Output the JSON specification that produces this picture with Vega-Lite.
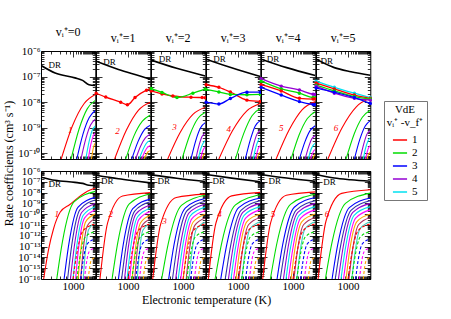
{
"$schema":"https://vega.github.io/schema/vega-lite/v6.json",
"padding":{"left":2,"top":25,"right":5,"bottom":5},
"datasets":{
"t":[
{"p":0,"c":0,"T":100,"k":2.7e-7},{"p":0,"c":0,"T":275,"k":1.38e-7},{"p":0,"c":0,"T":1148,"k":8.9e-8},{"p":0,"c":0,"T":1995,"k":7.1e-8},{"p":0,"c":0,"T":3162,"k":4.8e-8},{"p":0,"c":0,"T":5000,"k":4.5e-8},
{"p":1,"c":0,"T":100,"k":4e-7},{"p":1,"c":0,"T":501,"k":1.9e-7},{"p":1,"c":0,"T":1995,"k":1.12e-7},{"p":1,"c":0,"T":5000,"k":7.9e-8},
{"p":2,"c":0,"T":100,"k":4.4e-7},{"p":2,"c":0,"T":631,"k":2.1e-7},{"p":2,"c":0,"T":5000,"k":1.05e-7},
{"p":3,"c":0,"T":100,"k":4.8e-7},{"p":3,"c":0,"T":631,"k":2.2e-7},{"p":3,"c":0,"T":5000,"k":1e-7},
{"p":4,"c":0,"T":100,"k":4.8e-7},{"p":4,"c":0,"T":631,"k":2.24e-7},{"p":4,"c":0,"T":5000,"k":1.1e-7},
{"p":5,"c":0,"T":100,"k":4.8e-7},{"p":5,"c":0,"T":372,"k":2.24e-7},{"p":5,"c":0,"T":1230,"k":1.55e-7},{"p":5,"c":0,"T":5000,"k":1.12e-7},
{"p":0,"c":1,"T":427,"k":6e-11},{"p":0,"c":1,"T":955,"k":1.17e-9},{"p":0,"c":1,"T":2239,"k":8.9e-9},{"p":0,"c":1,"T":5000,"k":2e-8},
{"p":0,"c":2,"T":871,"k":6e-11},{"p":0,"c":2,"T":1549,"k":8.9e-10},{"p":0,"c":2,"T":2818,"k":5.6e-9},{"p":0,"c":2,"T":5000,"k":1.17e-8},
{"p":0,"c":3,"T":1318,"k":6e-11},{"p":0,"c":3,"T":2042,"k":5.5e-10},{"p":0,"c":3,"T":3236,"k":2.5e-9},{"p":0,"c":3,"T":5000,"k":4.7e-9},
{"p":0,"c":5,"T":1778,"k":6e-11},{"p":0,"c":5,"T":2512,"k":3.7e-10},{"p":0,"c":5,"T":3548,"k":1.29e-9},{"p":0,"c":5,"T":5000,"k":2.14e-9},
{"p":0,"c":6,"T":2512,"k":6e-11},{"p":0,"c":6,"T":3162,"k":2.75e-10},{"p":0,"c":6,"T":3981,"k":7.8e-10},{"p":0,"c":6,"T":5000,"k":1.17e-9},
{"p":0,"c":7,"T":3020,"k":6e-11},{"p":0,"c":7,"T":3548,"k":2e-10},{"p":0,"c":7,"T":4266,"k":4.6e-10},{"p":0,"c":7,"T":5000,"k":6.3e-10},
{"p":0,"c":8,"T":3802,"k":6e-11},{"p":0,"c":8,"T":4169,"k":1.26e-10},{"p":0,"c":8,"T":4571,"k":2.04e-10},{"p":0,"c":8,"T":5000,"k":2.5e-10},
{"p":1,"c":1,"T":380,"k":6e-11},{"p":1,"c":1,"T":891,"k":8.1e-10},{"p":1,"c":1,"T":2138,"k":4.9e-9},{"p":1,"c":1,"T":5000,"k":1e-8},
{"p":1,"c":2,"T":851,"k":6e-11},{"p":1,"c":2,"T":1514,"k":4.6e-10},{"p":1,"c":2,"T":2818,"k":1.8e-9},{"p":1,"c":2,"T":5000,"k":3.16e-9},
{"p":1,"c":3,"T":1318,"k":6e-11},{"p":1,"c":3,"T":2042,"k":2.8e-10},{"p":1,"c":3,"T":3236,"k":8.3e-10},{"p":1,"c":3,"T":5000,"k":1.26e-9},
{"p":1,"c":5,"T":1738,"k":6e-11},{"p":1,"c":5,"T":2455,"k":1.86e-10},{"p":1,"c":5,"T":3548,"k":4.1e-10},{"p":1,"c":5,"T":5000,"k":5.6e-10},
{"p":1,"c":6,"T":2239,"k":6e-11},{"p":1,"c":6,"T":2951,"k":1.41e-10},{"p":1,"c":6,"T":3802,"k":2.5e-10},{"p":1,"c":6,"T":5000,"k":3.16e-10},
{"p":1,"c":7,"T":2692,"k":6e-11},{"p":1,"c":7,"T":3311,"k":1.12e-10},{"p":1,"c":7,"T":4074,"k":1.7e-10},{"p":1,"c":7,"T":5000,"k":2e-10},
{"p":1,"c":8,"T":3162,"k":6e-11},{"p":1,"c":8,"T":3715,"k":8.7e-11},{"p":1,"c":8,"T":4266,"k":1.15e-10},{"p":1,"c":8,"T":5000,"k":1.26e-10},
{"p":2,"c":1,"T":331,"k":6e-11},{"p":2,"c":1,"T":813,"k":6.5e-10},{"p":2,"c":1,"T":2042,"k":3.3e-9},{"p":2,"c":1,"T":5000,"k":6.3e-9},
{"p":2,"c":2,"T":933,"k":6e-11},{"p":2,"c":2,"T":1622,"k":5.1e-10},{"p":2,"c":2,"T":2884,"k":2.24e-9},{"p":2,"c":2,"T":5000,"k":4e-9},
{"p":2,"c":3,"T":1778,"k":6e-11},{"p":2,"c":3,"T":2512,"k":3.16e-10},{"p":2,"c":3,"T":3548,"k":1e-9},{"p":2,"c":3,"T":5000,"k":1.58e-9},
{"p":2,"c":5,"T":2512,"k":6e-11},{"p":2,"c":5,"T":3162,"k":2e-10},{"p":2,"c":5,"T":3981,"k":4.6e-10},{"p":2,"c":5,"T":5000,"k":6.3e-10},
{"p":2,"c":6,"T":3020,"k":6e-11},{"p":2,"c":6,"T":3548,"k":1.41e-10},{"p":2,"c":6,"T":4266,"k":2.5e-10},{"p":2,"c":6,"T":5000,"k":3.16e-10},
{"p":2,"c":7,"T":3548,"k":6e-11},{"p":2,"c":7,"T":3981,"k":1.05e-10},{"p":2,"c":7,"T":4467,"k":1.5e-10},{"p":2,"c":7,"T":5000,"k":1.78e-10},
{"p":2,"c":8,"T":3981,"k":6e-11},{"p":2,"c":8,"T":4266,"k":7.8e-11},{"p":2,"c":8,"T":4677,"k":9.3e-11},{"p":2,"c":8,"T":5000,"k":1e-10},
{"p":3,"c":1,"T":251,"k":6e-11},{"p":3,"c":1,"T":676,"k":7.8e-10},{"p":3,"c":1,"T":1862,"k":4.5e-9},{"p":3,"c":1,"T":5000,"k":8.9e-9},
{"p":3,"c":2,"T":832,"k":6e-11},{"p":3,"c":2,"T":1514,"k":6e-10},{"p":3,"c":2,"T":2754,"k":2.95e-9},{"p":3,"c":2,"T":5000,"k":5.6e-9},
{"p":3,"c":3,"T":1698,"k":6e-11},{"p":3,"c":3,"T":2455,"k":3.5e-10},{"p":3,"c":3,"T":3467,"k":1.17e-9},{"p":3,"c":3,"T":5000,"k":1.9e-9},
{"p":3,"c":5,"T":2399,"k":6e-11},{"p":3,"c":5,"T":3090,"k":2.24e-10},{"p":3,"c":5,"T":3890,"k":5.5e-10},{"p":3,"c":5,"T":5000,"k":7.9e-10},
{"p":3,"c":6,"T":3020,"k":6e-11},{"p":3,"c":6,"T":3548,"k":1.58e-10},{"p":3,"c":6,"T":4266,"k":3.1e-10},{"p":3,"c":6,"T":5000,"k":4e-10},
{"p":3,"c":7,"T":3548,"k":6e-11},{"p":3,"c":7,"T":3981,"k":1.12e-10},{"p":3,"c":7,"T":4467,"k":1.7e-10},{"p":3,"c":7,"T":5000,"k":2e-10},
{"p":3,"c":8,"T":3981,"k":6e-11},{"p":3,"c":8,"T":4266,"k":8.3e-11},{"p":3,"c":8,"T":4677,"k":1.02e-10},{"p":3,"c":8,"T":5000,"k":1.12e-10},
{"p":4,"c":1,"T":295,"k":6e-11},{"p":4,"c":1,"T":759,"k":8.3e-10},{"p":4,"c":1,"T":1950,"k":5.1e-9},{"p":4,"c":1,"T":5000,"k":1.05e-8},
{"p":4,"c":2,"T":871,"k":6e-11},{"p":4,"c":2,"T":1549,"k":5.2e-10},{"p":4,"c":2,"T":2818,"k":2.3e-9},{"p":4,"c":2,"T":5000,"k":4.2e-9},
{"p":4,"c":3,"T":1585,"k":6e-11},{"p":4,"c":3,"T":2344,"k":2.75e-10},{"p":4,"c":3,"T":3467,"k":7.9e-10},{"p":4,"c":3,"T":5000,"k":1.2e-9},
{"p":4,"c":5,"T":2399,"k":6e-11},{"p":4,"c":5,"T":3090,"k":1.78e-10},{"p":4,"c":5,"T":3890,"k":3.7e-10},{"p":4,"c":5,"T":5000,"k":5e-10},
{"p":4,"c":6,"T":3020,"k":6e-11},{"p":4,"c":6,"T":3548,"k":1.26e-10},{"p":4,"c":6,"T":4266,"k":2.04e-10},{"p":4,"c":6,"T":5000,"k":2.5e-10},
{"p":4,"c":7,"T":3548,"k":6e-11},{"p":4,"c":7,"T":3981,"k":9.3e-11},{"p":4,"c":7,"T":4467,"k":1.26e-10},{"p":4,"c":7,"T":5000,"k":1.41e-10},
{"p":4,"c":8,"T":4169,"k":6e-11},{"p":4,"c":8,"T":4467,"k":7.4e-11},{"p":4,"c":8,"T":4677,"k":8.5e-11},{"p":4,"c":8,"T":5000,"k":8.9e-11},
{"p":5,"c":1,"T":234,"k":6e-11},{"p":5,"c":1,"T":646,"k":9.8e-10},{"p":5,"c":1,"T":1820,"k":6.6e-9},{"p":5,"c":1,"T":5000,"k":1.41e-8},
{"p":5,"c":2,"T":871,"k":6e-11},{"p":5,"c":2,"T":1549,"k":5.6e-10},{"p":5,"c":2,"T":2818,"k":2.57e-9},{"p":5,"c":2,"T":5000,"k":4.8e-9},
{"p":5,"c":3,"T":1585,"k":6e-11},{"p":5,"c":3,"T":2344,"k":3.5e-10},{"p":5,"c":3,"T":3467,"k":1.17e-9},{"p":5,"c":3,"T":5000,"k":1.9e-9},
{"p":5,"c":5,"T":2399,"k":6e-11},{"p":5,"c":5,"T":3090,"k":2.24e-10},{"p":5,"c":5,"T":3890,"k":5.5e-10},{"p":5,"c":5,"T":5000,"k":7.9e-10},
{"p":5,"c":6,"T":3020,"k":6e-11},{"p":5,"c":6,"T":3548,"k":1.58e-10},{"p":5,"c":6,"T":4266,"k":3.1e-10},{"p":5,"c":6,"T":5000,"k":4e-10},
{"p":5,"c":7,"T":3548,"k":6e-11},{"p":5,"c":7,"T":3981,"k":1.12e-10},{"p":5,"c":7,"T":4467,"k":1.7e-10},{"p":5,"c":7,"T":5000,"k":2e-10},
{"p":5,"c":8,"T":3981,"k":6e-11},{"p":5,"c":8,"T":4266,"k":8.3e-11},{"p":5,"c":8,"T":4677,"k":1.02e-10},{"p":5,"c":8,"T":5000,"k":1.12e-10},
{"p":1,"c":21,"T":100,"k":2.24e-8},{"p":1,"c":21,"T":200,"k":1.58e-8},{"p":1,"c":21,"T":589,"k":1e-8},{"p":1,"c":21,"T":955,"k":7.9e-9},{"p":1,"c":21,"T":1660,"k":1.51e-8},{"p":1,"c":21,"T":3802,"k":2.95e-8},{"p":1,"c":21,"T":5000,"k":3.4e-8},
{"p":2,"c":21,"T":100,"k":2.75e-8},{"p":2,"c":21,"T":219,"k":2.1e-8},{"p":2,"c":21,"T":479,"k":1.74e-8},{"p":2,"c":21,"T":1778,"k":1.55e-8},{"p":2,"c":21,"T":3981,"k":1.51e-8},{"p":2,"c":21,"T":5000,"k":1.5e-8},
{"p":2,"c":22,"T":100,"k":3.4e-8},{"p":2,"c":22,"T":219,"k":2.4e-8},{"p":2,"c":22,"T":646,"k":1.51e-8},{"p":2,"c":22,"T":2042,"k":2.24e-8},{"p":2,"c":22,"T":5000,"k":3.3e-8},
{"p":3,"c":21,"T":100,"k":4.8e-8},{"p":3,"c":21,"T":251,"k":3.8e-8},{"p":3,"c":21,"T":575,"k":2.5e-8},{"p":3,"c":21,"T":1905,"k":1.2e-8},{"p":3,"c":21,"T":5000,"k":1.07e-8},
{"p":3,"c":22,"T":100,"k":3.16e-8},{"p":3,"c":22,"T":251,"k":2.5e-8},{"p":3,"c":22,"T":575,"k":2e-8},{"p":3,"c":22,"T":1905,"k":1.95e-8},{"p":3,"c":22,"T":5000,"k":2e-8},
{"p":3,"c":23,"T":100,"k":1e-8},{"p":3,"c":23,"T":251,"k":8.5e-9},{"p":3,"c":23,"T":575,"k":1.38e-8},{"p":3,"c":23,"T":1905,"k":2.45e-8},{"p":3,"c":23,"T":5000,"k":2.45e-8},
{"p":4,"c":24,"T":100,"k":8.3e-8},{"p":4,"c":24,"T":427,"k":4.2e-8},{"p":4,"c":24,"T":1585,"k":3e-8},{"p":4,"c":24,"T":4266,"k":2.04e-8},{"p":4,"c":24,"T":5000,"k":2e-8},
{"p":4,"c":22,"T":100,"k":6.6e-8},{"p":4,"c":22,"T":427,"k":3.3e-8},{"p":4,"c":22,"T":1585,"k":2.24e-8},{"p":4,"c":22,"T":4266,"k":1.51e-8},{"p":4,"c":22,"T":5000,"k":1.48e-8},
{"p":4,"c":21,"T":100,"k":4.8e-8},{"p":4,"c":21,"T":427,"k":2.75e-8},{"p":4,"c":21,"T":1585,"k":1.41e-8},{"p":4,"c":21,"T":4266,"k":1.32e-8},{"p":4,"c":21,"T":5000,"k":1.32e-8},
{"p":4,"c":23,"T":100,"k":3.8e-8},{"p":4,"c":23,"T":427,"k":1.9e-8},{"p":4,"c":23,"T":1585,"k":1.05e-8},{"p":4,"c":23,"T":4266,"k":8.1e-9},{"p":4,"c":23,"T":5000,"k":7.9e-9},
{"p":5,"c":25,"T":100,"k":6.6e-8},{"p":5,"c":25,"T":372,"k":3.8e-8},{"p":5,"c":25,"T":1585,"k":2.24e-8},{"p":5,"c":25,"T":5000,"k":1.51e-8},
{"p":5,"c":21,"T":100,"k":5.6e-8},{"p":5,"c":21,"T":372,"k":3.3e-8},{"p":5,"c":21,"T":1585,"k":1.9e-8},{"p":5,"c":21,"T":5000,"k":1.41e-8},
{"p":5,"c":22,"T":100,"k":4.6e-8},{"p":5,"c":22,"T":372,"k":2.75e-8},{"p":5,"c":22,"T":1585,"k":1.66e-8},{"p":5,"c":22,"T":5000,"k":1.32e-8},
{"p":5,"c":24,"T":100,"k":4.2e-8},{"p":5,"c":24,"T":372,"k":2.24e-8},{"p":5,"c":24,"T":1585,"k":1.41e-8},{"p":5,"c":24,"T":5000,"k":1.2e-8},
{"p":5,"c":23,"T":100,"k":3.55e-8},{"p":5,"c":23,"T":372,"k":2.45e-8},{"p":5,"c":23,"T":1585,"k":1.51e-8},{"p":5,"c":23,"T":5000,"k":8.9e-9},
{"p":0,"c":-1,"T":170,"k":2.95e-7,"s":"DR"},{"p":1,"c":-1,"T":166,"k":3.8e-7,"s":"DR"},{"p":2,"c":-1,"T":174,"k":4.8e-7,"s":"DR"},{"p":3,"c":-1,"T":166,"k":4.8e-7,"s":"DR"},{"p":4,"c":-1,"T":151,"k":4.8e-7,"s":"DR"},{"p":5,"c":-1,"T":138,"k":3.9e-7,"s":"DR"},
{"p":0,"c":-2,"T":813,"k":7.9e-10,"s":"1"},{"p":1,"c":-2,"T":468,"k":7.4e-10,"s":"2"},{"p":2,"c":-2,"T":537,"k":1.05e-9,"s":"3"},{"p":3,"c":-2,"T":513,"k":8.9e-10,"s":"4"},{"p":4,"c":-2,"T":427,"k":9.5e-10,"s":"5"},{"p":5,"c":-2,"T":417,"k":9.5e-10,"s":"6"}
],
"b":[
{"p":0,"c":0,"T":100,"k":2.7e-7},{"p":0,"c":0,"T":275,"k":1.38e-7},{"p":0,"c":0,"T":1148,"k":8.9e-8},{"p":0,"c":0,"T":1995,"k":7.1e-8},{"p":0,"c":0,"T":3162,"k":4.8e-8},{"p":0,"c":0,"T":5000,"k":4.5e-8},
{"p":1,"c":0,"T":100,"k":4e-7},{"p":1,"c":0,"T":501,"k":1.9e-7},{"p":1,"c":0,"T":1995,"k":1.12e-7},{"p":1,"c":0,"T":5000,"k":7.9e-8},
{"p":2,"c":0,"T":100,"k":4.4e-7},{"p":2,"c":0,"T":631,"k":2.1e-7},{"p":2,"c":0,"T":5000,"k":1.05e-7},
{"p":3,"c":0,"T":100,"k":4.8e-7},{"p":3,"c":0,"T":631,"k":2.2e-7},{"p":3,"c":0,"T":5000,"k":1e-7},
{"p":4,"c":0,"T":100,"k":4.8e-7},{"p":4,"c":0,"T":631,"k":2.24e-7},{"p":4,"c":0,"T":5000,"k":1.1e-7},
{"p":5,"c":0,"T":100,"k":4.8e-7},{"p":5,"c":0,"T":372,"k":2.24e-7},{"p":5,"c":0,"T":1230,"k":1.55e-7},{"p":5,"c":0,"T":5000,"k":1.12e-7},
{"p":0,"c":1,"T":120,"k":1e-16},{"p":0,"c":1,"T":170,"k":5e-14},{"p":0,"c":1,"T":245,"k":4.5e-12},{"p":0,"c":1,"T":398,"k":1.58e-10},{"p":0,"c":1,"T":794,"k":7.9e-10},{"p":0,"c":1,"T":1479,"k":3.6e-9},{"p":0,"c":1,"T":2818,"k":1.35e-8},{"p":0,"c":1,"T":5000,"k":2.7e-8},
{"p":0,"c":2,"T":309,"k":1e-16},{"p":0,"c":2,"T":468,"k":3.1e-13},{"p":0,"c":2,"T":1072,"k":1.38e-9},{"p":0,"c":2,"T":5000,"k":1.29e-8},
{"p":0,"c":3,"T":525,"k":1e-16},{"p":0,"c":3,"T":741,"k":1.78e-13},{"p":0,"c":3,"T":1445,"k":4.5e-10},{"p":0,"c":3,"T":5000,"k":3.6e-9},
{"p":0,"c":4,"T":676,"k":1e-16},{"p":0,"c":4,"T":912,"k":1.38e-13},{"p":0,"c":4,"T":1660,"k":2.7e-10},{"p":0,"c":4,"T":5000,"k":2.04e-9},
{"p":0,"c":5,"T":832,"k":1e-16},{"p":0,"c":5,"T":1096,"k":1.02e-13},{"p":0,"c":5,"T":1862,"k":1.45e-10},{"p":0,"c":5,"T":5000,"k":1e-9},
{"p":0,"c":6,"T":1000,"k":1e-16},{"p":0,"c":6,"T":1288,"k":7.6e-14},{"p":0,"c":6,"T":2089,"k":7.9e-11},{"p":0,"c":6,"T":5000,"k":5e-10},
{"p":0,"c":7,"T":1202,"k":1e-16},{"p":0,"c":7,"T":1479,"k":5.6e-14},{"p":0,"c":7,"T":2291,"k":4.3e-11},{"p":0,"c":7,"T":5000,"k":2.5e-10},
{"p":0,"c":8,"T":1445,"k":1e-16},{"p":0,"c":8,"T":1738,"k":3.9e-14},{"p":0,"c":8,"T":2512,"k":2.04e-11},{"p":0,"c":8,"T":5000,"k":1.07e-10},
{"p":0,"c":9,"T":1738,"k":1e-16},{"p":0,"c":9,"T":2042,"k":2.57e-14},{"p":0,"c":9,"T":2818,"k":8.5e-12},{"p":0,"c":9,"T":5000,"k":4e-11},
{"p":0,"c":10,"T":2089,"k":1e-16},{"p":0,"c":10,"T":2399,"k":1.74e-14},{"p":0,"c":10,"T":3090,"k":3.8e-12},{"p":0,"c":10,"T":5000,"k":1.58e-11},
{"p":1,"c":1,"T":132,"k":1e-16},{"p":1,"c":1,"T":229,"k":1.58e-11},{"p":1,"c":1,"T":676,"k":4.8e-9},{"p":1,"c":1,"T":5000,"k":1e-8},
{"p":1,"c":2,"T":316,"k":1e-16},{"p":1,"c":2,"T":479,"k":2.5e-13},{"p":1,"c":2,"T":1096,"k":8.9e-10},{"p":1,"c":2,"T":5000,"k":7.9e-9},
{"p":1,"c":3,"T":501,"k":1e-16},{"p":1,"c":3,"T":708,"k":1.51e-13},{"p":1,"c":3,"T":1413,"k":3.2e-10},{"p":1,"c":3,"T":5000,"k":2.5e-9},
{"p":1,"c":4,"T":631,"k":1e-16},{"p":1,"c":4,"T":871,"k":1.17e-13},{"p":1,"c":4,"T":1622,"k":1.95e-10},{"p":1,"c":4,"T":5000,"k":1.41e-9},
{"p":1,"c":5,"T":776,"k":1e-16},{"p":1,"c":5,"T":1023,"k":8.9e-14},{"p":1,"c":5,"T":1778,"k":1.07e-10},{"p":1,"c":5,"T":5000,"k":7.1e-10},
{"p":1,"c":6,"T":933,"k":1e-16},{"p":1,"c":6,"T":1202,"k":6.6e-14},{"p":1,"c":6,"T":1995,"k":5.8e-11},{"p":1,"c":6,"T":5000,"k":3.55e-10},
{"p":1,"c":7,"T":1122,"k":1e-16},{"p":1,"c":7,"T":1413,"k":4.9e-14},{"p":1,"c":7,"T":2188,"k":3.16e-11},{"p":1,"c":7,"T":5000,"k":1.78e-10},
{"p":1,"c":8,"T":1349,"k":1e-16},{"p":1,"c":8,"T":1660,"k":3.5e-14},{"p":1,"c":8,"T":2455,"k":1.55e-11},{"p":1,"c":8,"T":5000,"k":7.9e-11},
{"p":1,"c":9,"T":1622,"k":1e-16},{"p":1,"c":9,"T":1905,"k":2.45e-14},{"p":1,"c":9,"T":2692,"k":7.6e-12},{"p":1,"c":9,"T":5000,"k":3.55e-11},
{"p":1,"c":10,"T":1950,"k":1e-16},{"p":1,"c":10,"T":2239,"k":1.62e-14},{"p":1,"c":10,"T":2951,"k":3.4e-12},{"p":1,"c":10,"T":5000,"k":1.41e-11},
{"p":2,"c":1,"T":112,"k":1e-16},{"p":2,"c":1,"T":200,"k":1.29e-11},{"p":2,"c":1,"T":617,"k":3.55e-9},{"p":2,"c":1,"T":5000,"k":7.2e-9},
{"p":2,"c":2,"T":214,"k":1e-16},{"p":2,"c":2,"T":347,"k":2.14e-13},{"p":2,"c":2,"T":891,"k":6.6e-10},{"p":2,"c":2,"T":5000,"k":5.6e-9},
{"p":2,"c":3,"T":355,"k":1e-16},{"p":2,"c":3,"T":525,"k":1.58e-13},{"p":2,"c":3,"T":1175,"k":3.6e-10},{"p":2,"c":3,"T":5000,"k":2.8e-9},
{"p":2,"c":4,"T":468,"k":1e-16},{"p":2,"c":4,"T":661,"k":1.26e-13},{"p":2,"c":4,"T":1349,"k":2.2e-10},{"p":2,"c":4,"T":5000,"k":1.58e-9},
{"p":2,"c":5,"T":589,"k":1e-16},{"p":2,"c":5,"T":813,"k":9.8e-14},{"p":2,"c":5,"T":1549,"k":1.32e-10},{"p":2,"c":5,"T":5000,"k":8.9e-10},
{"p":2,"c":6,"T":708,"k":1e-16},{"p":2,"c":6,"T":955,"k":7.2e-14},{"p":2,"c":6,"T":1698,"k":7.1e-11},{"p":2,"c":6,"T":5000,"k":4.5e-10},
{"p":2,"c":7,"T":851,"k":1e-16},{"p":2,"c":7,"T":1122,"k":5.4e-14},{"p":2,"c":7,"T":1905,"k":3.9e-11},{"p":2,"c":7,"T":5000,"k":2.24e-10},
{"p":2,"c":8,"T":1023,"k":1e-16},{"p":2,"c":8,"T":1288,"k":3.8e-14},{"p":2,"c":8,"T":2089,"k":1.9e-11},{"p":2,"c":8,"T":5000,"k":1e-10},
{"p":2,"c":9,"T":1259,"k":1e-16},{"p":2,"c":9,"T":1549,"k":2.7e-14},{"p":2,"c":9,"T":2344,"k":9.3e-12},{"p":2,"c":9,"T":5000,"k":4.5e-11},
{"p":2,"c":10,"T":1549,"k":1e-16},{"p":2,"c":10,"T":1862,"k":1.82e-14},{"p":2,"c":10,"T":2630,"k":4.2e-12},{"p":2,"c":10,"T":5000,"k":1.78e-11},
{"p":3,"c":1,"T":117,"k":1e-16},{"p":3,"c":1,"T":204,"k":1.62e-11},{"p":3,"c":1,"T":631,"k":5e-9},{"p":3,"c":1,"T":5000,"k":1.05e-8},
{"p":3,"c":2,"T":191,"k":1e-16},{"p":3,"c":2,"T":309,"k":2.24e-13},{"p":3,"c":2,"T":832,"k":7.2e-10},{"p":3,"c":2,"T":5000,"k":6.3e-9},
{"p":3,"c":3,"T":288,"k":1e-16},{"p":3,"c":3,"T":447,"k":1.66e-13},{"p":3,"c":3,"T":1047,"k":4e-10},{"p":3,"c":3,"T":5000,"k":3.16e-9},
{"p":3,"c":4,"T":398,"k":1e-16},{"p":3,"c":4,"T":589,"k":1.32e-13},{"p":3,"c":4,"T":1259,"k":2.4e-10},{"p":3,"c":4,"T":5000,"k":1.78e-9},
{"p":3,"c":5,"T":501,"k":1e-16},{"p":3,"c":5,"T":708,"k":1.02e-13},{"p":3,"c":5,"T":1413,"k":1.45e-10},{"p":3,"c":5,"T":5000,"k":1e-9},
{"p":3,"c":6,"T":603,"k":1e-16},{"p":3,"c":6,"T":832,"k":7.6e-14},{"p":3,"c":6,"T":1549,"k":7.9e-11},{"p":3,"c":6,"T":5000,"k":5e-10},
{"p":3,"c":7,"T":724,"k":1e-16},{"p":3,"c":7,"T":977,"k":5.6e-14},{"p":3,"c":7,"T":1738,"k":4.3e-11},{"p":3,"c":7,"T":5000,"k":2.5e-10},
{"p":3,"c":8,"T":871,"k":1e-16},{"p":3,"c":8,"T":1122,"k":4e-14},{"p":3,"c":8,"T":1905,"k":2.1e-11},{"p":3,"c":8,"T":5000,"k":1.05e-10},
{"p":3,"c":9,"T":1072,"k":1e-16},{"p":3,"c":9,"T":1349,"k":2.8e-14},{"p":3,"c":9,"T":2138,"k":1.05e-11},{"p":3,"c":9,"T":5000,"k":5e-11},
{"p":3,"c":10,"T":1318,"k":1e-16},{"p":3,"c":10,"T":1622,"k":1.9e-14},{"p":3,"c":10,"T":2399,"k":4.6e-12},{"p":3,"c":10,"T":5000,"k":2e-11},
{"p":4,"c":1,"T":112,"k":1e-16},{"p":4,"c":1,"T":200,"k":1.78e-11},{"p":4,"c":1,"T":617,"k":5.6e-9},{"p":4,"c":1,"T":5000,"k":1.17e-8},
{"p":4,"c":2,"T":195,"k":1e-16},{"p":4,"c":2,"T":316,"k":2.4e-13},{"p":4,"c":2,"T":832,"k":8.1e-10},{"p":4,"c":2,"T":5000,"k":7.1e-9},
{"p":4,"c":3,"T":316,"k":1e-16},{"p":4,"c":3,"T":479,"k":1.78e-13},{"p":4,"c":3,"T":1096,"k":4.4e-10},{"p":4,"c":3,"T":5000,"k":3.55e-9},
{"p":4,"c":4,"T":398,"k":1e-16},{"p":4,"c":4,"T":589,"k":1.32e-13},{"p":4,"c":4,"T":1259,"k":2.4e-10},{"p":4,"c":4,"T":5000,"k":1.78e-9},
{"p":4,"c":5,"T":501,"k":1e-16},{"p":4,"c":5,"T":708,"k":1.02e-13},{"p":4,"c":5,"T":1413,"k":1.45e-10},{"p":4,"c":5,"T":5000,"k":1e-9},
{"p":4,"c":6,"T":603,"k":1e-16},{"p":4,"c":6,"T":832,"k":7.6e-14},{"p":4,"c":6,"T":1549,"k":7.9e-11},{"p":4,"c":6,"T":5000,"k":5e-10},
{"p":4,"c":7,"T":724,"k":1e-16},{"p":4,"c":7,"T":977,"k":5.6e-14},{"p":4,"c":7,"T":1738,"k":4.3e-11},{"p":4,"c":7,"T":5000,"k":2.5e-10},
{"p":4,"c":8,"T":871,"k":1e-16},{"p":4,"c":8,"T":1122,"k":4e-14},{"p":4,"c":8,"T":1905,"k":2.1e-11},{"p":4,"c":8,"T":5000,"k":1.05e-10},
{"p":4,"c":9,"T":1072,"k":1e-16},{"p":4,"c":9,"T":1349,"k":2.8e-14},{"p":4,"c":9,"T":2138,"k":1.05e-11},{"p":4,"c":9,"T":5000,"k":5e-11},
{"p":4,"c":10,"T":1318,"k":1e-16},{"p":4,"c":10,"T":1622,"k":1.9e-14},{"p":4,"c":10,"T":2399,"k":4.6e-12},{"p":4,"c":10,"T":5000,"k":2e-11},
{"p":5,"c":1,"T":115,"k":1e-16},{"p":5,"c":1,"T":204,"k":2.34e-11},{"p":5,"c":1,"T":631,"k":8.5e-9},{"p":5,"c":1,"T":5000,"k":1.82e-8},
{"p":5,"c":2,"T":195,"k":1e-16},{"p":5,"c":2,"T":316,"k":2.6e-13},{"p":5,"c":2,"T":832,"k":1e-9},{"p":5,"c":2,"T":5000,"k":8.9e-9},
{"p":5,"c":3,"T":316,"k":1e-16},{"p":5,"c":3,"T":479,"k":1.66e-13},{"p":5,"c":3,"T":1096,"k":4e-10},{"p":5,"c":3,"T":5000,"k":3.16e-9},
{"p":5,"c":4,"T":398,"k":1e-16},{"p":5,"c":4,"T":589,"k":1.32e-13},{"p":5,"c":4,"T":1259,"k":2.4e-10},{"p":5,"c":4,"T":5000,"k":1.78e-9},
{"p":5,"c":5,"T":501,"k":1e-16},{"p":5,"c":5,"T":708,"k":1.02e-13},{"p":5,"c":5,"T":1413,"k":1.45e-10},{"p":5,"c":5,"T":5000,"k":1e-9},
{"p":5,"c":6,"T":603,"k":1e-16},{"p":5,"c":6,"T":832,"k":7.6e-14},{"p":5,"c":6,"T":1549,"k":7.9e-11},{"p":5,"c":6,"T":5000,"k":5e-10},
{"p":5,"c":7,"T":724,"k":1e-16},{"p":5,"c":7,"T":977,"k":5.6e-14},{"p":5,"c":7,"T":1738,"k":4.3e-11},{"p":5,"c":7,"T":5000,"k":2.5e-10},
{"p":5,"c":8,"T":871,"k":1e-16},{"p":5,"c":8,"T":1122,"k":4e-14},{"p":5,"c":8,"T":1905,"k":2.1e-11},{"p":5,"c":8,"T":5000,"k":1.05e-10},
{"p":5,"c":9,"T":1072,"k":1e-16},{"p":5,"c":9,"T":1349,"k":2.8e-14},{"p":5,"c":9,"T":2138,"k":1.05e-11},{"p":5,"c":9,"T":5000,"k":5e-11},
{"p":5,"c":10,"T":1318,"k":1e-16},{"p":5,"c":10,"T":1622,"k":1.9e-14},{"p":5,"c":10,"T":2399,"k":4.6e-12},{"p":5,"c":10,"T":5000,"k":2e-11},
{"p":0,"c":11,"T":1000,"k":1e-16},{"p":0,"c":11,"T":1288,"k":1.55e-14},{"p":0,"c":11,"T":2089,"k":3.1e-12},{"p":0,"c":11,"T":5000,"k":1.26e-11},
{"p":0,"c":12,"T":1318,"k":1e-16},{"p":0,"c":12,"T":1622,"k":7.8e-15},{"p":0,"c":12,"T":2399,"k":7.4e-13},{"p":0,"c":12,"T":5000,"k":2.5e-12},
{"p":0,"c":13,"T":1738,"k":1e-16},{"p":0,"c":13,"T":2042,"k":3.9e-15},{"p":0,"c":13,"T":2818,"k":1.82e-13},{"p":0,"c":13,"T":5000,"k":5e-13},
{"p":0,"c":14,"T":2291,"k":1e-16},{"p":0,"c":14,"T":2570,"k":1.78e-15},{"p":0,"c":14,"T":3236,"k":3.55e-14},{"p":0,"c":14,"T":5000,"k":7.9e-14},
{"p":0,"c":15,"T":3020,"k":1e-16},{"p":0,"c":15,"T":3236,"k":7.2e-16},{"p":0,"c":15,"T":3802,"k":5.8e-15},{"p":0,"c":15,"T":5000,"k":1e-14},
{"p":1,"c":11,"T":1000,"k":1e-16},{"p":1,"c":11,"T":1288,"k":1.55e-14},{"p":1,"c":11,"T":2089,"k":3.1e-12},{"p":1,"c":11,"T":5000,"k":1.26e-11},
{"p":1,"c":12,"T":1318,"k":1e-16},{"p":1,"c":12,"T":1622,"k":7.8e-15},{"p":1,"c":12,"T":2399,"k":7.4e-13},{"p":1,"c":12,"T":5000,"k":2.5e-12},
{"p":1,"c":13,"T":1738,"k":1e-16},{"p":1,"c":13,"T":2042,"k":3.9e-15},{"p":1,"c":13,"T":2818,"k":1.82e-13},{"p":1,"c":13,"T":5000,"k":5e-13},
{"p":1,"c":14,"T":2291,"k":1e-16},{"p":1,"c":14,"T":2570,"k":1.78e-15},{"p":1,"c":14,"T":3236,"k":3.55e-14},{"p":1,"c":14,"T":5000,"k":7.9e-14},
{"p":1,"c":15,"T":3020,"k":1e-16},{"p":1,"c":15,"T":3236,"k":7.2e-16},{"p":1,"c":15,"T":3802,"k":5.8e-15},{"p":1,"c":15,"T":5000,"k":1e-14},
{"p":2,"c":11,"T":1000,"k":1e-16},{"p":2,"c":11,"T":1288,"k":1.55e-14},{"p":2,"c":11,"T":2089,"k":3.1e-12},{"p":2,"c":11,"T":5000,"k":1.26e-11},
{"p":2,"c":12,"T":1318,"k":1e-16},{"p":2,"c":12,"T":1622,"k":7.8e-15},{"p":2,"c":12,"T":2399,"k":7.4e-13},{"p":2,"c":12,"T":5000,"k":2.5e-12},
{"p":2,"c":13,"T":1738,"k":1e-16},{"p":2,"c":13,"T":2042,"k":3.9e-15},{"p":2,"c":13,"T":2818,"k":1.82e-13},{"p":2,"c":13,"T":5000,"k":5e-13},
{"p":2,"c":14,"T":2291,"k":1e-16},{"p":2,"c":14,"T":2570,"k":1.78e-15},{"p":2,"c":14,"T":3236,"k":3.55e-14},{"p":2,"c":14,"T":5000,"k":7.9e-14},
{"p":2,"c":15,"T":3020,"k":1e-16},{"p":2,"c":15,"T":3236,"k":7.2e-16},{"p":2,"c":15,"T":3802,"k":5.8e-15},{"p":2,"c":15,"T":5000,"k":1e-14},
{"p":3,"c":11,"T":1000,"k":1e-16},{"p":3,"c":11,"T":1288,"k":1.55e-14},{"p":3,"c":11,"T":2089,"k":3.1e-12},{"p":3,"c":11,"T":5000,"k":1.26e-11},
{"p":3,"c":12,"T":1318,"k":1e-16},{"p":3,"c":12,"T":1622,"k":7.8e-15},{"p":3,"c":12,"T":2399,"k":7.4e-13},{"p":3,"c":12,"T":5000,"k":2.5e-12},
{"p":3,"c":13,"T":1738,"k":1e-16},{"p":3,"c":13,"T":2042,"k":3.9e-15},{"p":3,"c":13,"T":2818,"k":1.82e-13},{"p":3,"c":13,"T":5000,"k":5e-13},
{"p":3,"c":14,"T":2291,"k":1e-16},{"p":3,"c":14,"T":2570,"k":1.78e-15},{"p":3,"c":14,"T":3236,"k":3.55e-14},{"p":3,"c":14,"T":5000,"k":7.9e-14},
{"p":3,"c":15,"T":3020,"k":1e-16},{"p":3,"c":15,"T":3236,"k":7.2e-16},{"p":3,"c":15,"T":3802,"k":5.8e-15},{"p":3,"c":15,"T":5000,"k":1e-14},
{"p":4,"c":11,"T":1000,"k":1e-16},{"p":4,"c":11,"T":1288,"k":1.55e-14},{"p":4,"c":11,"T":2089,"k":3.1e-12},{"p":4,"c":11,"T":5000,"k":1.26e-11},
{"p":4,"c":12,"T":1318,"k":1e-16},{"p":4,"c":12,"T":1622,"k":7.8e-15},{"p":4,"c":12,"T":2399,"k":7.4e-13},{"p":4,"c":12,"T":5000,"k":2.5e-12},
{"p":4,"c":13,"T":1738,"k":1e-16},{"p":4,"c":13,"T":2042,"k":3.9e-15},{"p":4,"c":13,"T":2818,"k":1.82e-13},{"p":4,"c":13,"T":5000,"k":5e-13},
{"p":4,"c":14,"T":2291,"k":1e-16},{"p":4,"c":14,"T":2570,"k":1.78e-15},{"p":4,"c":14,"T":3236,"k":3.55e-14},{"p":4,"c":14,"T":5000,"k":7.9e-14},
{"p":4,"c":15,"T":3020,"k":1e-16},{"p":4,"c":15,"T":3236,"k":7.2e-16},{"p":4,"c":15,"T":3802,"k":5.8e-15},{"p":4,"c":15,"T":5000,"k":1e-14},
{"p":5,"c":11,"T":1000,"k":1e-16},{"p":5,"c":11,"T":1288,"k":1.55e-14},{"p":5,"c":11,"T":2089,"k":3.1e-12},{"p":5,"c":11,"T":5000,"k":1.26e-11},
{"p":5,"c":12,"T":1318,"k":1e-16},{"p":5,"c":12,"T":1622,"k":7.8e-15},{"p":5,"c":12,"T":2399,"k":7.4e-13},{"p":5,"c":12,"T":5000,"k":2.5e-12},
{"p":5,"c":13,"T":1738,"k":1e-16},{"p":5,"c":13,"T":2042,"k":3.9e-15},{"p":5,"c":13,"T":2818,"k":1.82e-13},{"p":5,"c":13,"T":5000,"k":5e-13},
{"p":5,"c":14,"T":2291,"k":1e-16},{"p":5,"c":14,"T":2570,"k":1.78e-15},{"p":5,"c":14,"T":3236,"k":3.55e-14},{"p":5,"c":14,"T":5000,"k":7.9e-14},
{"p":5,"c":15,"T":3020,"k":1e-16},{"p":5,"c":15,"T":3236,"k":7.2e-16},{"p":5,"c":15,"T":3802,"k":5.8e-15},{"p":5,"c":15,"T":5000,"k":1e-14},
{"p":0,"c":-1,"T":170,"k":6e-8,"s":"DR"},{"p":1,"c":-1,"T":141,"k":1.2e-7,"s":"DR"},{"p":2,"c":-1,"T":158,"k":1.2e-7,"s":"DR"},{"p":3,"c":-1,"T":158,"k":1.2e-7,"s":"DR"},{"p":4,"c":-1,"T":170,"k":1.2e-7,"s":"DR"},{"p":5,"c":-1,"T":166,"k":1e-7,"s":"DR"},
{"p":0,"c":-2,"T":309,"k":1.07e-10,"s":"1"},{"p":1,"c":-2,"T":288,"k":1.07e-10,"s":"2"},{"p":2,"c":-2,"T":263,"k":2.5e-11,"s":"3"},{"p":3,"c":-2,"T":263,"k":1.07e-10,"s":"4"},{"p":4,"c":-2,"T":234,"k":1.07e-10,"s":"5"},{"p":5,"c":-2,"T":219,"k":1.07e-10,"s":"6"}
]
},
"config":{
"view":{"stroke":"#000","strokeWidth":1},
"axis":{"domain":false,"grid":false,"labels":false,"tickColor":"#000","tickWidth":0.8,"tickCount":30,"labelOverlap":false,"labelFlush":false,"labelBound":false,"labelFont":"Liberation Serif","labelFontSize":11,"labelColor":"#000","labelPadding":7,"titleFont":"Liberation Serif","titleFontSize":12,"titleFontWeight":"normal","titleColor":"#000"},
"axisX":{"values":[100,200,300,400,500,600,700,800,900,1000,2000,3000,4000,5000],"tickSize":{"condition":{"test":"datum.value<150||abs(datum.value-1000)<1","value":-6},"value":-3}},
"axisY":{"tickSize":{"condition":{"test":"abs(log(datum.value)/LN10-round(log(datum.value)/LN10))<0.01","value":-6},"value":-3}},
"title":{"font":"Liberation Serif","fontSize":12,"fontWeight":"normal","offset":6,"anchor":"middle","color":"#000"},
"text":{"font":"Liberation Serif"},
"legend":{"titleFont":"Liberation Serif","titleFontSize":11,"titleFontWeight":"normal","titleColor":"#000","labelFont":"Liberation Serif","labelFontSize":11,"labelColor":"#000","symbolStrokeWidth":1.5,"symbolSize":200,"strokeColor":"#777","padding":3,"titleAnchor":"middle","titleAlign":"center","rowPadding":0,"titlePadding":4,"labelOffset":4}
},
"resolve":{"scale":{"color":"shared"}},
"columns":6,
"spacing":{"row":12,"column":0},
"bounds":"flush",
"concat":[
{"width":54.3,"height":108,"title":"vᵢ⁺=0","data":{"name":"t"},"transform":[{"filter":"datum.p==0"}],
"encoding":{"x":{"field":"T","type":"quantitative","scale":{"type":"log","domain":[99,5000],"nice":false},"axis":null},"y":{"field":"k","type":"quantitative","scale":{"type":"log","domain":[6e-11,1e-6],"nice":false},"axis":null}},
"layer":[
{"transform":[{"filter":"datum.c==0"}],"mark":{"type":"line","clip":true,"interpolate":"monotone","color":"#000","strokeWidth":1.6},"encoding":{"x":{"field":"T","type":"quantitative","scale":{"type":"log","domain":[99,5000],"nice":false},"axis":{"orient":"bottom","title":null}},"y":{"field":"k","type":"quantitative","scale":{"type":"log","domain":[6e-11,1e-6],"nice":false},"axis":{"orient":"left","labels":true,"labelExpr":"abs(log(datum.value)/LN10-round(log(datum.value)/LN10))<0.01 ? '10⁻'+['','','','','','','⁶','⁷','⁸','⁹','¹⁰','¹¹','¹²','¹³','¹⁴','¹⁵','¹⁶'][-round(log(datum.value)/LN10)] : ''","title":"Rate coefficients (cm³ s⁻¹)","titleY":112,"titlePadding":2}}}},
{"transform":[{"filter":"datum.c>0&&datum.c<20"}],"mark":{"type":"line","clip":true,"interpolate":"monotone","strokeWidth":1.1},"encoding":{"color":{"field":"c","type":"nominal","scale":{"domain":[1,2,3,4,5,6,7,8,9,10,11,12,13,14,15,21,22,23,24,25],"range":["#ff0000","#00dd00","#0000ff","#3333aa","#9400d3","#00e0f0","#ff00ff","#ffa500","#b03060","#40d0c0","#ff0000","#00dd00","#0000ff","#ff00ff","#ffa500","#ff0000","#00dd00","#0000ff","#9400d3","#00e0f0"]}}}},
{"transform":[{"filter":"datum.c>20"}],"mark":{"type":"line","clip":true,"interpolate":"monotone","strokeWidth":1.3},"encoding":{"x":{"field":"T","type":"quantitative","scale":{"type":"log","domain":[99,5000],"nice":false},"axis":{"orient":"top","title":null}},"y":{"field":"k","type":"quantitative","scale":{"type":"log","domain":[6e-11,1e-6],"nice":false},"axis":{"orient":"right","title":null}},"color":{"field":"c","type":"nominal"}}},
{"transform":[{"filter":"datum.c==-1"}],"mark":{"type":"text","align":"left","fontSize":9},"encoding":{"text":{"field":"s"}}},
{"transform":[{"filter":"datum.c==-2"}],"mark":{"type":"text","fontSize":9,"fontStyle":"italic","color":"#ff0000"},"encoding":{"text":{"field":"s"}}}
],"resolve":{"axis":{"x":"independent","y":"independent"}}},
{"width":54.3,"height":108,"title":"vᵢ⁺=1","data":{"name":"t"},"transform":[{"filter":"datum.p==1"}],
"encoding":{"x":{"field":"T","type":"quantitative","scale":{"type":"log","domain":[99,5000],"nice":false},"axis":null},"y":{"field":"k","type":"quantitative","scale":{"type":"log","domain":[6e-11,1e-6],"nice":false},"axis":null}},
"layer":[
{"transform":[{"filter":"datum.c==0"}],"mark":{"type":"line","clip":true,"interpolate":"monotone","color":"#000","strokeWidth":1.6},"encoding":{"x":{"field":"T","type":"quantitative","scale":{"type":"log","domain":[99,5000],"nice":false},"axis":{"orient":"bottom","title":null}},"y":{"field":"k","type":"quantitative","scale":{"type":"log","domain":[6e-11,1e-6],"nice":false},"axis":{"orient":"left","title":null}}}},
{"transform":[{"filter":"datum.c>0&&datum.c<20"}],"mark":{"type":"line","clip":true,"interpolate":"monotone","strokeWidth":1.1},"encoding":{"color":{"field":"c","type":"nominal"}}},
{"transform":[{"filter":"datum.c>20"}],"mark":{"type":"line","clip":true,"interpolate":"monotone","strokeWidth":1.3},"encoding":{"x":{"field":"T","type":"quantitative","scale":{"type":"log","domain":[99,5000],"nice":false},"axis":{"orient":"top","title":null}},"y":{"field":"k","type":"quantitative","scale":{"type":"log","domain":[6e-11,1e-6],"nice":false},"axis":{"orient":"right","title":null}},"color":{"field":"c","type":"nominal"}}},
{"transform":[{"filter":"datum.c>20"}],"mark":{"type":"point","filled":true,"size":12,"opacity":1},"encoding":{"color":{"field":"c","type":"nominal"}}},
{"transform":[{"filter":"datum.c==-1"}],"mark":{"type":"text","align":"left","fontSize":9},"encoding":{"text":{"field":"s"}}},
{"transform":[{"filter":"datum.c==-2"}],"mark":{"type":"text","fontSize":9,"fontStyle":"italic","color":"#ff0000"},"encoding":{"text":{"field":"s"}}}
],"resolve":{"axis":{"x":"independent","y":"independent"}}},
{"width":54.3,"height":108,"title":"vᵢ⁺=2","data":{"name":"t"},"transform":[{"filter":"datum.p==2"}],
"encoding":{"x":{"field":"T","type":"quantitative","scale":{"type":"log","domain":[99,5000],"nice":false},"axis":null},"y":{"field":"k","type":"quantitative","scale":{"type":"log","domain":[6e-11,1e-6],"nice":false},"axis":null}},
"layer":[
{"transform":[{"filter":"datum.c==0"}],"mark":{"type":"line","clip":true,"interpolate":"monotone","color":"#000","strokeWidth":1.6},"encoding":{"x":{"field":"T","type":"quantitative","scale":{"type":"log","domain":[99,5000],"nice":false},"axis":{"orient":"bottom","title":null}},"y":{"field":"k","type":"quantitative","scale":{"type":"log","domain":[6e-11,1e-6],"nice":false},"axis":{"orient":"left","title":null}}}},
{"transform":[{"filter":"datum.c>0&&datum.c<20"}],"mark":{"type":"line","clip":true,"interpolate":"monotone","strokeWidth":1.1},"encoding":{"color":{"field":"c","type":"nominal"}}},
{"transform":[{"filter":"datum.c>20"}],"mark":{"type":"line","clip":true,"interpolate":"monotone","strokeWidth":1.3},"encoding":{"x":{"field":"T","type":"quantitative","scale":{"type":"log","domain":[99,5000],"nice":false},"axis":{"orient":"top","title":null}},"y":{"field":"k","type":"quantitative","scale":{"type":"log","domain":[6e-11,1e-6],"nice":false},"axis":{"orient":"right","title":null}},"color":{"field":"c","type":"nominal"}}},
{"transform":[{"filter":"datum.c>20"}],"mark":{"type":"point","filled":true,"size":12,"opacity":1},"encoding":{"color":{"field":"c","type":"nominal"}}},
{"transform":[{"filter":"datum.c==-1"}],"mark":{"type":"text","align":"left","fontSize":9},"encoding":{"text":{"field":"s"}}},
{"transform":[{"filter":"datum.c==-2"}],"mark":{"type":"text","fontSize":9,"fontStyle":"italic","color":"#ff0000"},"encoding":{"text":{"field":"s"}}}
],"resolve":{"axis":{"x":"independent","y":"independent"}}},
{"width":54.3,"height":108,"title":"vᵢ⁺=3","data":{"name":"t"},"transform":[{"filter":"datum.p==3"}],
"encoding":{"x":{"field":"T","type":"quantitative","scale":{"type":"log","domain":[99,5000],"nice":false},"axis":null},"y":{"field":"k","type":"quantitative","scale":{"type":"log","domain":[6e-11,1e-6],"nice":false},"axis":null}},
"layer":[
{"transform":[{"filter":"datum.c==0"}],"mark":{"type":"line","clip":true,"interpolate":"monotone","color":"#000","strokeWidth":1.6},"encoding":{"x":{"field":"T","type":"quantitative","scale":{"type":"log","domain":[99,5000],"nice":false},"axis":{"orient":"bottom","title":null}},"y":{"field":"k","type":"quantitative","scale":{"type":"log","domain":[6e-11,1e-6],"nice":false},"axis":{"orient":"left","title":null}}}},
{"transform":[{"filter":"datum.c>0&&datum.c<20"}],"mark":{"type":"line","clip":true,"interpolate":"monotone","strokeWidth":1.1},"encoding":{"color":{"field":"c","type":"nominal"}}},
{"transform":[{"filter":"datum.c>20"}],"mark":{"type":"line","clip":true,"interpolate":"monotone","strokeWidth":1.3},"encoding":{"x":{"field":"T","type":"quantitative","scale":{"type":"log","domain":[99,5000],"nice":false},"axis":{"orient":"top","title":null}},"y":{"field":"k","type":"quantitative","scale":{"type":"log","domain":[6e-11,1e-6],"nice":false},"axis":{"orient":"right","title":null}},"color":{"field":"c","type":"nominal"}}},
{"transform":[{"filter":"datum.c>20"}],"mark":{"type":"point","filled":true,"size":12,"opacity":1},"encoding":{"color":{"field":"c","type":"nominal"}}},
{"transform":[{"filter":"datum.c==-1"}],"mark":{"type":"text","align":"left","fontSize":9},"encoding":{"text":{"field":"s"}}},
{"transform":[{"filter":"datum.c==-2"}],"mark":{"type":"text","fontSize":9,"fontStyle":"italic","color":"#ff0000"},"encoding":{"text":{"field":"s"}}}
],"resolve":{"axis":{"x":"independent","y":"independent"}}},
{"width":54.3,"height":108,"title":"vᵢ⁺=4","data":{"name":"t"},"transform":[{"filter":"datum.p==4"}],
"encoding":{"x":{"field":"T","type":"quantitative","scale":{"type":"log","domain":[99,5000],"nice":false},"axis":null},"y":{"field":"k","type":"quantitative","scale":{"type":"log","domain":[6e-11,1e-6],"nice":false},"axis":null}},
"layer":[
{"transform":[{"filter":"datum.c==0"}],"mark":{"type":"line","clip":true,"interpolate":"monotone","color":"#000","strokeWidth":1.6},"encoding":{"x":{"field":"T","type":"quantitative","scale":{"type":"log","domain":[99,5000],"nice":false},"axis":{"orient":"bottom","title":null}},"y":{"field":"k","type":"quantitative","scale":{"type":"log","domain":[6e-11,1e-6],"nice":false},"axis":{"orient":"left","title":null}}}},
{"transform":[{"filter":"datum.c>0&&datum.c<20"}],"mark":{"type":"line","clip":true,"interpolate":"monotone","strokeWidth":1.1},"encoding":{"color":{"field":"c","type":"nominal"}}},
{"transform":[{"filter":"datum.c>20"}],"mark":{"type":"line","clip":true,"interpolate":"monotone","strokeWidth":1.3},"encoding":{"x":{"field":"T","type":"quantitative","scale":{"type":"log","domain":[99,5000],"nice":false},"axis":{"orient":"top","title":null}},"y":{"field":"k","type":"quantitative","scale":{"type":"log","domain":[6e-11,1e-6],"nice":false},"axis":{"orient":"right","title":null}},"color":{"field":"c","type":"nominal"}}},
{"transform":[{"filter":"datum.c>20"}],"mark":{"type":"point","filled":true,"size":12,"opacity":1},"encoding":{"color":{"field":"c","type":"nominal"}}},
{"transform":[{"filter":"datum.c==-1"}],"mark":{"type":"text","align":"left","fontSize":9},"encoding":{"text":{"field":"s"}}},
{"transform":[{"filter":"datum.c==-2"}],"mark":{"type":"text","fontSize":9,"fontStyle":"italic","color":"#ff0000"},"encoding":{"text":{"field":"s"}}}
],"resolve":{"axis":{"x":"independent","y":"independent"}}},
{"width":54.3,"height":108,"title":"vᵢ⁺=5","data":{"name":"t"},"transform":[{"filter":"datum.p==5"}],
"encoding":{"x":{"field":"T","type":"quantitative","scale":{"type":"log","domain":[99,5000],"nice":false},"axis":null},"y":{"field":"k","type":"quantitative","scale":{"type":"log","domain":[6e-11,1e-6],"nice":false},"axis":null}},
"layer":[
{"transform":[{"filter":"datum.c==0"}],"mark":{"type":"line","clip":true,"interpolate":"monotone","color":"#000","strokeWidth":1.6},"encoding":{"x":{"field":"T","type":"quantitative","scale":{"type":"log","domain":[99,5000],"nice":false},"axis":{"orient":"bottom","title":null}},"y":{"field":"k","type":"quantitative","scale":{"type":"log","domain":[6e-11,1e-6],"nice":false},"axis":{"orient":"left","title":null}}}},
{"transform":[{"filter":"datum.c>0&&datum.c<20"}],"mark":{"type":"line","clip":true,"interpolate":"monotone","strokeWidth":1.1},"encoding":{"color":{"field":"c","type":"nominal"}}},
{"transform":[{"filter":"datum.c>20"}],"mark":{"type":"line","clip":true,"interpolate":"monotone","strokeWidth":1.3},"encoding":{"x":{"field":"T","type":"quantitative","scale":{"type":"log","domain":[99,5000],"nice":false},"axis":{"orient":"top","title":null}},"y":{"field":"k","type":"quantitative","scale":{"type":"log","domain":[6e-11,1e-6],"nice":false},"axis":{"orient":"right","title":null}},"color":{"field":"c","type":"nominal","legend":{"values":[21,22,23,24,25],"labelExpr":"datum.value-20","title":["VdE","vᵢ⁺ -v_f⁺"],"symbolType":"stroke","orient":"none","legendX":343,"legendY":50}}}},
{"transform":[{"filter":"datum.c>20"}],"mark":{"type":"point","filled":true,"size":12,"opacity":1},"encoding":{"color":{"field":"c","type":"nominal"}}},
{"transform":[{"filter":"datum.c==-1"}],"mark":{"type":"text","align":"left","fontSize":9},"encoding":{"text":{"field":"s"}}},
{"transform":[{"filter":"datum.c==-2"}],"mark":{"type":"text","fontSize":9,"fontStyle":"italic","color":"#ff0000"},"encoding":{"text":{"field":"s"}}}
],"resolve":{"axis":{"x":"independent","y":"independent"}}},
{"width":54.3,"height":108,"data":{"name":"b"},"transform":[{"filter":"datum.p==0"}],
"encoding":{"x":{"field":"T","type":"quantitative","scale":{"type":"log","domain":[99,5000],"nice":false},"axis":null},"y":{"field":"k","type":"quantitative","scale":{"type":"log","domain":[1e-16,1e-6],"nice":false},"axis":null}},
"layer":[
{"transform":[{"filter":"datum.c==0"}],"mark":{"type":"line","clip":true,"interpolate":"monotone","color":"#000","strokeWidth":1.6},"encoding":{"x":{"field":"T","type":"quantitative","scale":{"type":"log","domain":[99,5000],"nice":false},"axis":{"orient":"bottom","title":null,"labels":true,"labelOverlap":false,"labelFlush":false,"labelBound":false,"labelExpr":"datum.value<150 ? '100' : (abs(datum.value-1000)<1 ? '1000' : '')"}},"y":{"field":"k","type":"quantitative","scale":{"type":"log","domain":[1e-16,1e-6],"nice":false},"axis":{"orient":"left","title":null,"labels":true,"labelExpr":"abs(log(datum.value)/LN10-round(log(datum.value)/LN10))<0.01 ? '10⁻'+['','','','','','','⁶','⁷','⁸','⁹','¹⁰','¹¹','¹²','¹³','¹⁴','¹⁵','¹⁶'][-round(log(datum.value)/LN10)] : ''"}}}},
{"transform":[{"filter":"datum.c>0&&datum.c<11"}],"mark":{"type":"line","clip":true,"interpolate":"monotone","strokeWidth":1.1},"encoding":{"color":{"field":"c","type":"nominal"}}},
{"transform":[{"filter":"datum.c>10"}],"mark":{"type":"line","clip":true,"interpolate":"monotone","strokeWidth":1.1,"strokeDash":[3,2]},"encoding":{"x":{"field":"T","type":"quantitative","scale":{"type":"log","domain":[99,5000],"nice":false},"axis":{"orient":"top","title":null}},"y":{"field":"k","type":"quantitative","scale":{"type":"log","domain":[1e-16,1e-6],"nice":false},"axis":{"orient":"right","title":null}},"color":{"field":"c","type":"nominal"}}},
{"transform":[{"filter":"datum.c==-1"}],"mark":{"type":"text","align":"left","fontSize":9},"encoding":{"text":{"field":"s"}}},
{"transform":[{"filter":"datum.c==-2"}],"mark":{"type":"text","fontSize":9,"fontStyle":"italic","color":"#ff0000"},"encoding":{"text":{"field":"s"}}}
],"resolve":{"axis":{"x":"independent","y":"independent"}}},
{"width":54.3,"height":108,"data":{"name":"b"},"transform":[{"filter":"datum.p==1"}],
"encoding":{"x":{"field":"T","type":"quantitative","scale":{"type":"log","domain":[99,5000],"nice":false},"axis":null},"y":{"field":"k","type":"quantitative","scale":{"type":"log","domain":[1e-16,1e-6],"nice":false},"axis":null}},
"layer":[
{"transform":[{"filter":"datum.c==0"}],"mark":{"type":"line","clip":true,"interpolate":"monotone","color":"#000","strokeWidth":1.6},"encoding":{"x":{"field":"T","type":"quantitative","scale":{"type":"log","domain":[99,5000],"nice":false},"axis":{"orient":"bottom","title":null,"labels":true,"labelOverlap":false,"labelFlush":false,"labelBound":false,"labelExpr":"datum.value<150 ? '100' : (abs(datum.value-1000)<1 ? '1000' : '')"}},"y":{"field":"k","type":"quantitative","scale":{"type":"log","domain":[1e-16,1e-6],"nice":false},"axis":{"orient":"left","title":null}}}},
{"transform":[{"filter":"datum.c>0&&datum.c<11"}],"mark":{"type":"line","clip":true,"interpolate":"monotone","strokeWidth":1.1},"encoding":{"color":{"field":"c","type":"nominal"}}},
{"transform":[{"filter":"datum.c>10"}],"mark":{"type":"line","clip":true,"interpolate":"monotone","strokeWidth":1.1,"strokeDash":[3,2]},"encoding":{"x":{"field":"T","type":"quantitative","scale":{"type":"log","domain":[99,5000],"nice":false},"axis":{"orient":"top","title":null}},"y":{"field":"k","type":"quantitative","scale":{"type":"log","domain":[1e-16,1e-6],"nice":false},"axis":{"orient":"right","title":null}},"color":{"field":"c","type":"nominal"}}},
{"transform":[{"filter":"datum.c==-1"}],"mark":{"type":"text","align":"left","fontSize":9},"encoding":{"text":{"field":"s"}}},
{"transform":[{"filter":"datum.c==-2"}],"mark":{"type":"text","fontSize":9,"fontStyle":"italic","color":"#ff0000"},"encoding":{"text":{"field":"s"}}}
],"resolve":{"axis":{"x":"independent","y":"independent"}}},
{"width":54.3,"height":108,"data":{"name":"b"},"transform":[{"filter":"datum.p==2"}],
"encoding":{"x":{"field":"T","type":"quantitative","scale":{"type":"log","domain":[99,5000],"nice":false},"axis":null},"y":{"field":"k","type":"quantitative","scale":{"type":"log","domain":[1e-16,1e-6],"nice":false},"axis":null}},
"layer":[
{"transform":[{"filter":"datum.c==0"}],"mark":{"type":"line","clip":true,"interpolate":"monotone","color":"#000","strokeWidth":1.6},"encoding":{"x":{"field":"T","type":"quantitative","scale":{"type":"log","domain":[99,5000],"nice":false},"axis":{"orient":"bottom","title":null,"labels":true,"labelOverlap":false,"labelFlush":false,"labelBound":false,"labelExpr":"datum.value<150 ? '100' : (abs(datum.value-1000)<1 ? '1000' : '')"}},"y":{"field":"k","type":"quantitative","scale":{"type":"log","domain":[1e-16,1e-6],"nice":false},"axis":{"orient":"left","title":null}}}},
{"transform":[{"filter":"datum.c>0&&datum.c<11"}],"mark":{"type":"line","clip":true,"interpolate":"monotone","strokeWidth":1.1},"encoding":{"color":{"field":"c","type":"nominal"}}},
{"transform":[{"filter":"datum.c>10"}],"mark":{"type":"line","clip":true,"interpolate":"monotone","strokeWidth":1.1,"strokeDash":[3,2]},"encoding":{"x":{"field":"T","type":"quantitative","scale":{"type":"log","domain":[99,5000],"nice":false},"axis":{"orient":"top","title":null}},"y":{"field":"k","type":"quantitative","scale":{"type":"log","domain":[1e-16,1e-6],"nice":false},"axis":{"orient":"right","title":null}},"color":{"field":"c","type":"nominal"}}},
{"transform":[{"filter":"datum.c==-1"}],"mark":{"type":"text","align":"left","fontSize":9},"encoding":{"text":{"field":"s"}}},
{"transform":[{"filter":"datum.c==-2"}],"mark":{"type":"text","fontSize":9,"fontStyle":"italic","color":"#ff0000"},"encoding":{"text":{"field":"s"}}}
],"resolve":{"axis":{"x":"independent","y":"independent"}}},
{"width":54.3,"height":108,"data":{"name":"b"},"transform":[{"filter":"datum.p==3"}],
"encoding":{"x":{"field":"T","type":"quantitative","scale":{"type":"log","domain":[99,5000],"nice":false},"axis":null},"y":{"field":"k","type":"quantitative","scale":{"type":"log","domain":[1e-16,1e-6],"nice":false},"axis":null}},
"layer":[
{"transform":[{"filter":"datum.c==0"}],"mark":{"type":"line","clip":true,"interpolate":"monotone","color":"#000","strokeWidth":1.6},"encoding":{"x":{"field":"T","type":"quantitative","scale":{"type":"log","domain":[99,5000],"nice":false},"axis":{"orient":"bottom","labels":true,"labelOverlap":false,"labelFlush":false,"labelBound":false,"labelExpr":"datum.value<150 ? '100' : (abs(datum.value-1000)<1 ? '1000' : '')","title":"Electronic temperature (K)","titleX":0,"titlePadding":0}},"y":{"field":"k","type":"quantitative","scale":{"type":"log","domain":[1e-16,1e-6],"nice":false},"axis":{"orient":"left","title":null}}}},
{"transform":[{"filter":"datum.c>0&&datum.c<11"}],"mark":{"type":"line","clip":true,"interpolate":"monotone","strokeWidth":1.1},"encoding":{"color":{"field":"c","type":"nominal"}}},
{"transform":[{"filter":"datum.c>10"}],"mark":{"type":"line","clip":true,"interpolate":"monotone","strokeWidth":1.1,"strokeDash":[3,2]},"encoding":{"x":{"field":"T","type":"quantitative","scale":{"type":"log","domain":[99,5000],"nice":false},"axis":{"orient":"top","title":null}},"y":{"field":"k","type":"quantitative","scale":{"type":"log","domain":[1e-16,1e-6],"nice":false},"axis":{"orient":"right","title":null}},"color":{"field":"c","type":"nominal"}}},
{"transform":[{"filter":"datum.c==-1"}],"mark":{"type":"text","align":"left","fontSize":9},"encoding":{"text":{"field":"s"}}},
{"transform":[{"filter":"datum.c==-2"}],"mark":{"type":"text","fontSize":9,"fontStyle":"italic","color":"#ff0000"},"encoding":{"text":{"field":"s"}}}
],"resolve":{"axis":{"x":"independent","y":"independent"}}},
{"width":54.3,"height":108,"data":{"name":"b"},"transform":[{"filter":"datum.p==4"}],
"encoding":{"x":{"field":"T","type":"quantitative","scale":{"type":"log","domain":[99,5000],"nice":false},"axis":null},"y":{"field":"k","type":"quantitative","scale":{"type":"log","domain":[1e-16,1e-6],"nice":false},"axis":null}},
"layer":[
{"transform":[{"filter":"datum.c==0"}],"mark":{"type":"line","clip":true,"interpolate":"monotone","color":"#000","strokeWidth":1.6},"encoding":{"x":{"field":"T","type":"quantitative","scale":{"type":"log","domain":[99,5000],"nice":false},"axis":{"orient":"bottom","title":null,"labels":true,"labelOverlap":false,"labelFlush":false,"labelBound":false,"labelExpr":"datum.value<150 ? '100' : (abs(datum.value-1000)<1 ? '1000' : '')"}},"y":{"field":"k","type":"quantitative","scale":{"type":"log","domain":[1e-16,1e-6],"nice":false},"axis":{"orient":"left","title":null}}}},
{"transform":[{"filter":"datum.c>0&&datum.c<11"}],"mark":{"type":"line","clip":true,"interpolate":"monotone","strokeWidth":1.1},"encoding":{"color":{"field":"c","type":"nominal"}}},
{"transform":[{"filter":"datum.c>10"}],"mark":{"type":"line","clip":true,"interpolate":"monotone","strokeWidth":1.1,"strokeDash":[3,2]},"encoding":{"x":{"field":"T","type":"quantitative","scale":{"type":"log","domain":[99,5000],"nice":false},"axis":{"orient":"top","title":null}},"y":{"field":"k","type":"quantitative","scale":{"type":"log","domain":[1e-16,1e-6],"nice":false},"axis":{"orient":"right","title":null}},"color":{"field":"c","type":"nominal"}}},
{"transform":[{"filter":"datum.c==-1"}],"mark":{"type":"text","align":"left","fontSize":9},"encoding":{"text":{"field":"s"}}},
{"transform":[{"filter":"datum.c==-2"}],"mark":{"type":"text","fontSize":9,"fontStyle":"italic","color":"#ff0000"},"encoding":{"text":{"field":"s"}}}
],"resolve":{"axis":{"x":"independent","y":"independent"}}},
{"width":54.3,"height":108,"data":{"name":"b"},"transform":[{"filter":"datum.p==5"}],
"encoding":{"x":{"field":"T","type":"quantitative","scale":{"type":"log","domain":[99,5000],"nice":false},"axis":null},"y":{"field":"k","type":"quantitative","scale":{"type":"log","domain":[1e-16,1e-6],"nice":false},"axis":null}},
"layer":[
{"transform":[{"filter":"datum.c==0"}],"mark":{"type":"line","clip":true,"interpolate":"monotone","color":"#000","strokeWidth":1.6},"encoding":{"x":{"field":"T","type":"quantitative","scale":{"type":"log","domain":[99,5000],"nice":false},"axis":{"orient":"bottom","title":null,"labels":true,"labelOverlap":false,"labelFlush":false,"labelBound":false,"labelExpr":"datum.value<150 ? '100' : (abs(datum.value-1000)<1 ? '1000' : '')"}},"y":{"field":"k","type":"quantitative","scale":{"type":"log","domain":[1e-16,1e-6],"nice":false},"axis":{"orient":"left","title":null}}}},
{"transform":[{"filter":"datum.c>0&&datum.c<11"}],"mark":{"type":"line","clip":true,"interpolate":"monotone","strokeWidth":1.1},"encoding":{"color":{"field":"c","type":"nominal"}}},
{"transform":[{"filter":"datum.c>10"}],"mark":{"type":"line","clip":true,"interpolate":"monotone","strokeWidth":1.1,"strokeDash":[3,2]},"encoding":{"x":{"field":"T","type":"quantitative","scale":{"type":"log","domain":[99,5000],"nice":false},"axis":{"orient":"top","title":null}},"y":{"field":"k","type":"quantitative","scale":{"type":"log","domain":[1e-16,1e-6],"nice":false},"axis":{"orient":"right","title":null}},"color":{"field":"c","type":"nominal"}}},
{"transform":[{"filter":"datum.c==-1"}],"mark":{"type":"text","align":"left","fontSize":9},"encoding":{"text":{"field":"s"}}},
{"transform":[{"filter":"datum.c==-2"}],"mark":{"type":"text","fontSize":9,"fontStyle":"italic","color":"#ff0000"},"encoding":{"text":{"field":"s"}}}
],"resolve":{"axis":{"x":"independent","y":"independent"}}}
]
}
